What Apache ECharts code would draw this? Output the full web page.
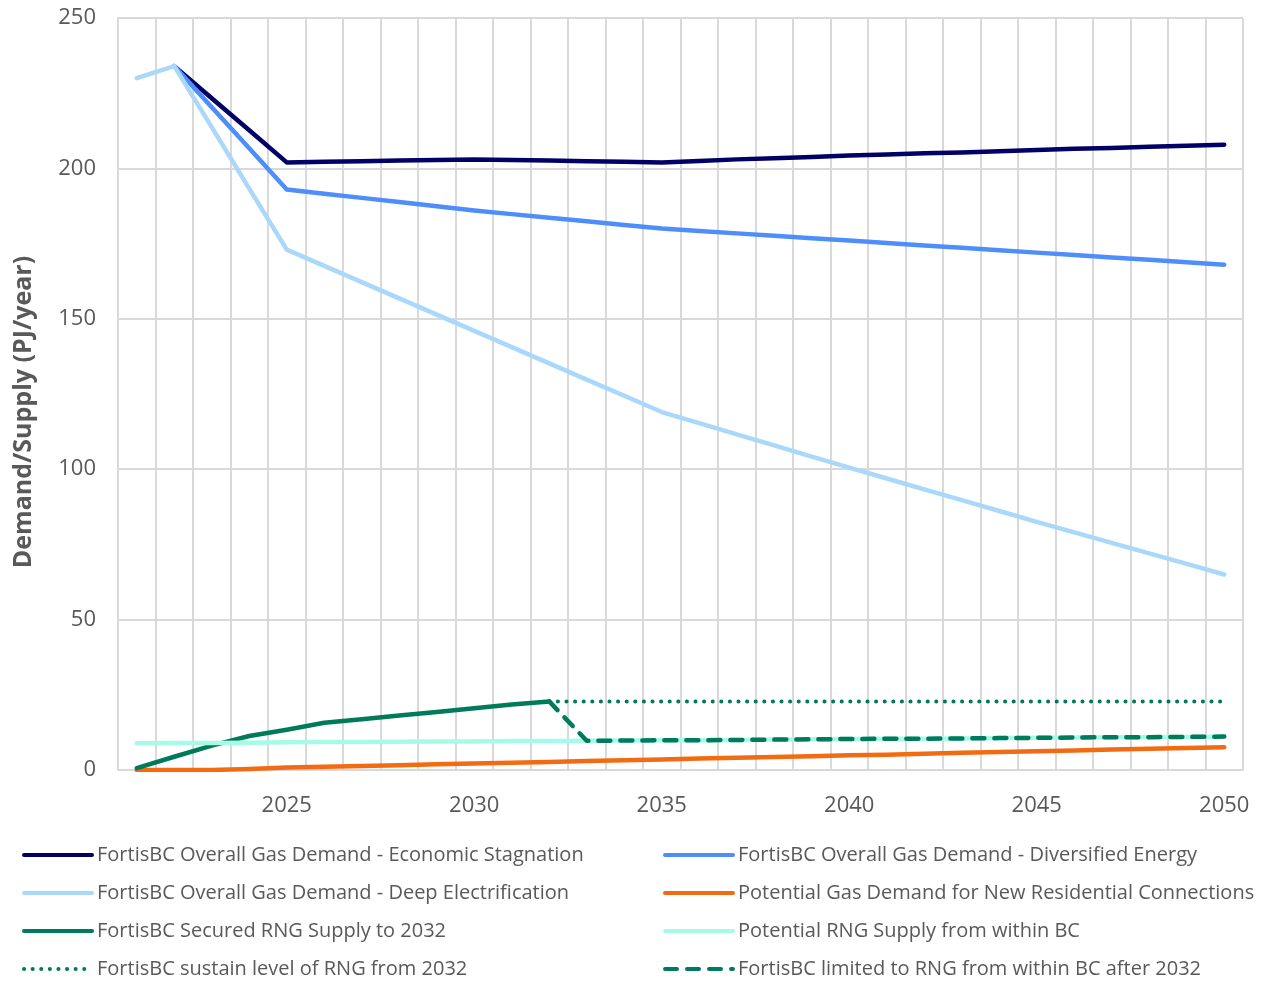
<!DOCTYPE html>
<html lang="en">

<head>
  <meta charset='utf-8'>
  <title>FortisBC gas demand and RNG supply</title>
  <style>
    html, body { margin: 0; padding: 0; background: #fff; }
  </style>
</head>

<body>
  <div id="myCharts" style="width: 1269px;height:982px;"></div>
  <script src="https://cdn.jsdelivr.net/npm/echarts@6/dist/echarts.min.js"></script>
  <script type="text/javascript">
    // years on the x axis
    var years = [];
    for (var y = 2021; y <= 2050; y++) years.push(String(y));
    // y axis ticks
    var yMin = 0, yMax = 250, yStep = 50;

    // series values (PJ/year), one per year from 2021
    var stagnation = [null, 234, 223.3, 212.7, 202, 202.2, 202.4, 202.6, 202.8, 203, 202.8, 202.6, 202.4, 202.2, 202,
      202.5, 203, 203.4, 203.8, 204.3, 204.6, 205, 205.3, 205.7, 206.1, 206.5, 206.8, 207.2, 207.5, 207.9];
    var diversified = [null, 234, 220.3, 206.7, 193, 191.6, 190.2, 188.8, 187.4, 186, 184.8, 183.6, 182.4, 181.2, 180,
      179.2, 178.4, 177.6, 176.8, 176, 175.2, 174.4, 173.6, 172.8, 172, 171.2, 170.4, 169.6, 168.8, 168];
    var deepElec = [230, 234, 213.7, 193.3, 173, 167.6, 162.2, 156.8, 151.4, 146, 140.6, 135.2, 129.8, 124.4, 119,
      115.3, 111.6, 107.9, 104.2, 100.5, 96.9, 93.3, 89.7, 86.1, 82.5, 79, 75.5, 72, 68.5, 65];
    var newResidential = [0, 0, 0, 0.3, 0.8, 1.1, 1.3, 1.6, 1.9, 2.2, 2.4, 2.7, 3.0, 3.2, 3.5,
      3.8, 4.1, 4.3, 4.6, 4.9, 5.1, 5.4, 5.7, 6.0, 6.2, 6.5, 6.8, 7.1, 7.3, 7.6];
    var securedRng = [0.6, 4.4, 8.1, 11.3, 13.4, 15.7, 16.9, 18.1, 19.3, 20.5, 21.8, 22.8];
    var bcRng = [8.9, 9.0, 9.0, 9.1, 9.2, 9.3, 9.3, 9.4, 9.5, 9.5, 9.6, 9.6, 9.7, 9.8, 9.9,
      9.9, 10.0, 10.1, 10.2, 10.3, 10.4, 10.4, 10.5, 10.6, 10.7, 10.8, 10.9, 10.9, 11.0, 11.1];
    var sustainRng = [null, null, null, null, null, null, null, null, null, null, null, 22.8, 22.8, 22.8, 22.8,
      22.8, 22.8, 22.8, 22.8, 22.8, 22.8, 22.8, 22.8, 22.8, 22.8, 22.8, 22.8, 22.8, 22.8, 22.8];
    var limitedRng = [null, null, null, null, null, null, null, null, null, null, null, 22.8, 9.7, 9.8, 9.9,
      9.9, 10.0, 10.1, 10.2, 10.3, 10.4, 10.4, 10.5, 10.6, 10.7, 10.8, 10.9, 10.9, 11.0, 11.1];

    var names = [
      'FortisBC Overall Gas Demand - Economic Stagnation',
      'FortisBC Overall Gas Demand - Diversified Energy',
      'FortisBC Overall Gas Demand - Deep Electrification',
      'Potential Gas Demand for New Residential Connections',
      'FortisBC Secured RNG Supply to 2032',
      'Potential RNG Supply from within BC',
      'FortisBC sustain level of RNG from 2032',
      'FortisBC limited to RNG from within BC after 2032'
    ];

    var font = '"Open Sans", "Noto Sans", sans-serif';
    var textGrey = '#595959';
    var gridGrey = '#d9d9d9';

    function lineSeries(name, data, color, style) {
      return {
        name: name,
        type: 'line',
        data: data,
        symbol: 'none',
        connectNulls: false,
        lineStyle: Object.assign({ color: color, width: 4.5, cap: 'round', join: 'round' }, style || {}),
        itemStyle: { color: color }
      };
    }

    // two legend columns, each a vertical list of four entries
    var legendBase = {
      orient: 'vertical',
      top: 845,
      padding: 0,
      itemWidth: 68,
      itemHeight: 10,
      itemGap: 18,
      itemStyle: { opacity: 0 },
      lineStyle: { width: 4 },
      textStyle: { fontFamily: font, fontSize: 20, lineHeight: 20, color: textGrey }
    };

    var myChart = echarts.init(document.getElementById('myCharts'));
    var chartOption = {
      animation: false,
      backgroundColor: '#fff',
      grid: { left: 118, right: 26, top: 18, bottom: 212 },
      legend: [
        Object.assign({}, legendBase, { left: 22, data: [names[0], names[2], names[4], names[6]] }),
        Object.assign({}, legendBase, { left: 663, data: [names[1], names[3], names[5], names[7]] })
      ],
      xAxis: {
        type: 'category',
        data: years,
        boundaryGap: true,
        axisLine: { lineStyle: { color: gridGrey, width: 2 } },
        axisTick: { show: false },
        axisLabel: {
          interval: function (i, v) { return Number(v) % 5 === 0; },
          margin: 25,
          fontFamily: font,
          fontSize: 22,
          color: textGrey
        },
        splitLine: { show: true, interval: 0, lineStyle: { color: gridGrey, width: 2 } }
      },
      yAxis: {
        type: 'value',
        min: yMin,
        max: yMax,
        interval: yStep,
        name: 'Demand/Supply (PJ/year)',
        nameLocation: 'middle',
        nameGap: 82,
        nameTextStyle: { fontFamily: font, fontSize: 25, fontWeight: 'bold', color: textGrey, padding: [0, 36, 0, 0] },
        axisLine: { show: true, lineStyle: { color: gridGrey, width: 2 } },
        axisTick: { show: false },
        axisLabel: { margin: 22, fontFamily: font, fontSize: 22, color: textGrey },
        splitLine: { lineStyle: { color: gridGrey, width: 2 } }
      },
      series: [
        lineSeries(names[0], stagnation, '#000066'),
        lineSeries(names[1], diversified, '#4d8efa'),
        lineSeries(names[2], deepElec, '#a9d8fb'),
        lineSeries(names[3], newResidential, '#f26b12'),
        lineSeries(names[4], securedRng, '#007a5c'),
        lineSeries(names[5], bcRng, '#a6fbe7'),
        lineSeries(names[6], sustainRng, '#007a5c', { width: 4, type: [0.1, 8.5] }),
        lineSeries(names[7], limitedRng, '#007a5c', { width: 4.5, type: [12, 10] })
      ]
    };
    myChart.setOption(chartOption);
  </script>
</body>

</html>
